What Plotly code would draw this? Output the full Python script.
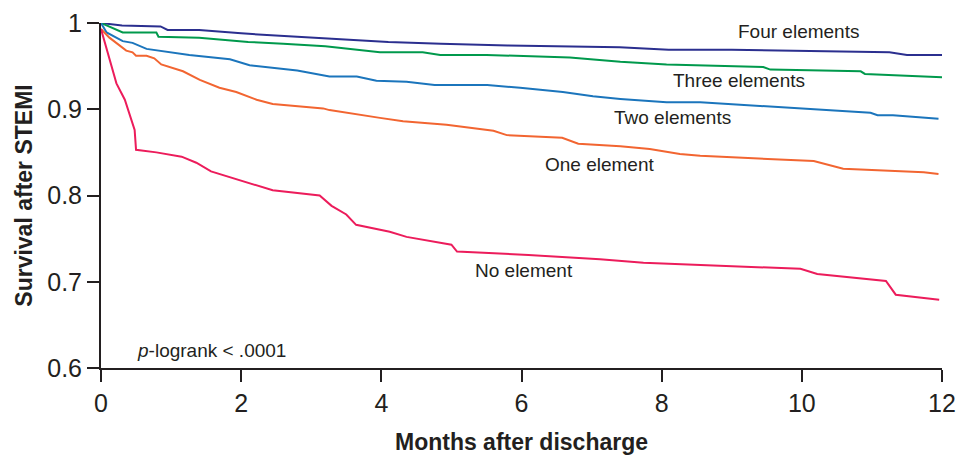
import plotly.graph_objects as go

# ---- data ----
four_x = [0, 0.3, 0.85, 0.95, 1.4, 2.0, 2.8, 4.1, 4.85, 5.8, 7.4, 8.1, 9.0, 10.0, 11.25, 11.5, 12.0]
four_y = [1.0, 0.997, 0.996, 0.992, 0.992, 0.988, 0.984, 0.978, 0.976, 0.974, 0.972, 0.969, 0.969, 0.968, 0.966, 0.963, 0.963]

three_x = [0, 0.31, 0.79, 0.82, 1.4, 2.1, 2.6, 3.2, 3.98, 4.59, 4.84, 5.5, 6.69, 6.84, 7.41, 8.07, 9.45, 9.55, 10.84, 10.9, 12.0]
three_y = [1.0, 0.989, 0.989, 0.984, 0.983, 0.978, 0.976, 0.973, 0.966, 0.966, 0.963, 0.963, 0.960, 0.959, 0.955, 0.952, 0.949, 0.946, 0.944, 0.941, 0.937]

two_x = [0, 0.08, 0.31, 0.45, 0.65, 1.26, 1.84, 2.12, 2.8, 3.26, 3.65, 3.93, 4.36, 4.76, 5.51, 5.98, 6.59, 7.02, 7.41, 8.07, 8.55, 9.98, 10.98, 11.08, 11.3, 11.95]
two_y = [1.0, 0.989, 0.979, 0.977, 0.970, 0.963, 0.958, 0.951, 0.945, 0.938, 0.938, 0.933, 0.932, 0.928, 0.928, 0.925, 0.920, 0.915, 0.912, 0.908, 0.908, 0.901, 0.896, 0.893, 0.893, 0.889]

one_x = [0, 0.12, 0.36, 0.45, 0.5, 0.65, 0.76, 0.86, 1.17, 1.41, 1.69, 1.93, 2.22, 2.45, 3.17, 3.26, 3.98, 4.31, 4.93, 5.6, 5.79, 6.58, 6.81, 7.41, 7.83, 8.26, 8.55, 10.17, 10.59, 11.74, 11.95]
one_y = [0.993, 0.983, 0.968, 0.966, 0.962, 0.962, 0.959, 0.952, 0.944, 0.934, 0.925, 0.920, 0.911, 0.906, 0.901, 0.899, 0.890, 0.886, 0.882, 0.875, 0.870, 0.867, 0.860, 0.857, 0.854, 0.848, 0.846, 0.840, 0.831, 0.827, 0.825]

none_x = [0, 0.22, 0.34, 0.48, 0.5, 0.79, 1.15, 1.36, 1.57, 2.45, 3.12, 3.29, 3.5, 3.64, 4.12, 4.36, 5.0, 5.08, 6.1, 7.12, 7.74, 9.98, 10.22, 11.2, 11.34, 11.96]
none_y = [0.993, 0.930, 0.911, 0.876, 0.853, 0.850, 0.845, 0.838, 0.828, 0.806, 0.800, 0.788, 0.778, 0.766, 0.758, 0.752, 0.743, 0.735, 0.731, 0.726, 0.722, 0.715, 0.709, 0.701, 0.685, 0.679]

series_names = ["Four elements", "Three elements", "Two elements", "One element", "No element"]
series_colors = ["#2b2f8f", "#00994c", "#1b75bc", "#f26531", "#ec1c5b"]
label_x = [9.95, 9.11, 8.16, 7.12, 6.04]
label_y = [0.990, 0.933, 0.891, 0.836, 0.713]

y_tickvals = [0.6, 0.7, 0.8, 0.9, 1.0]
y_ticktext = ["0.6", "0.7", "0.8", "0.9", "1"]
x_tickvals = [0, 2, 4, 6, 8, 10, 12]

FONT = "Liberation Sans, Arial, Helvetica, sans-serif"
INK = "#231f20"

fig = go.Figure()
xs = [four_x, three_x, two_x, one_x, none_x]
ys = [four_y, three_y, two_y, one_y, none_y]
for name, color, x, y in zip(series_names, series_colors, xs, ys):
    fig.add_trace(go.Scatter(x=x, y=y, mode="lines", name=name,
                             line=dict(color=color, width=2), showlegend=False,
                             cliponaxis=False))

for name, lx, ly in zip(series_names, label_x, label_y):
    fig.add_annotation(x=lx, y=ly, text=name, showarrow=False,
                       font=dict(family=FONT, size=19, color=INK),
                       xanchor="center", yanchor="middle")

fig.add_annotation(x=0.48, y=0.620, text="<i>p</i>-logrank < .0001", showarrow=False,
                   font=dict(family=FONT, size=19, color=INK),
                   xanchor="left", yanchor="middle")

fig.update_layout(
    width=956, height=455,
    margin=dict(l=101, r=14, t=23, b=87),
    plot_bgcolor="white", paper_bgcolor="white",
    font=dict(family=FONT, color=INK),
    xaxis=dict(range=[0, 12], tickvals=x_tickvals, showgrid=False, zeroline=False,
               showline=True, linecolor=INK, linewidth=2,
               ticks="outside", ticklen=12, tickwidth=2, tickcolor=INK,
               tickfont=dict(size=25, family=FONT, color=INK),
               title=dict(text="<b>Months after discharge</b>", standoff=21,
                          font=dict(size=23, family=FONT, color=INK)),
               automargin=False),
    yaxis=dict(range=[0.6, 1.0], tickvals=y_tickvals, ticktext=y_ticktext,
               showgrid=False, zeroline=False,
               showline=True, linecolor=INK, linewidth=2,
               ticks="outside", ticklen=12, tickwidth=2, tickcolor=INK,
               tickfont=dict(size=25, family=FONT, color=INK),
               title=dict(text="<b>Survival after STEMI</b>", standoff=8,
                          font=dict(size=23, family=FONT, color=INK)),
               automargin=False),
)

# remove the default page margin so the 956x455 figure fills the window exactly
page_fix = ("document.body.style.margin='0';"
            "document.documentElement.style.overflow='hidden';"
            "document.body.style.overflow='hidden';")
fig.write_html("out.html", post_script=page_fix, config={"displayModeBar": False})
